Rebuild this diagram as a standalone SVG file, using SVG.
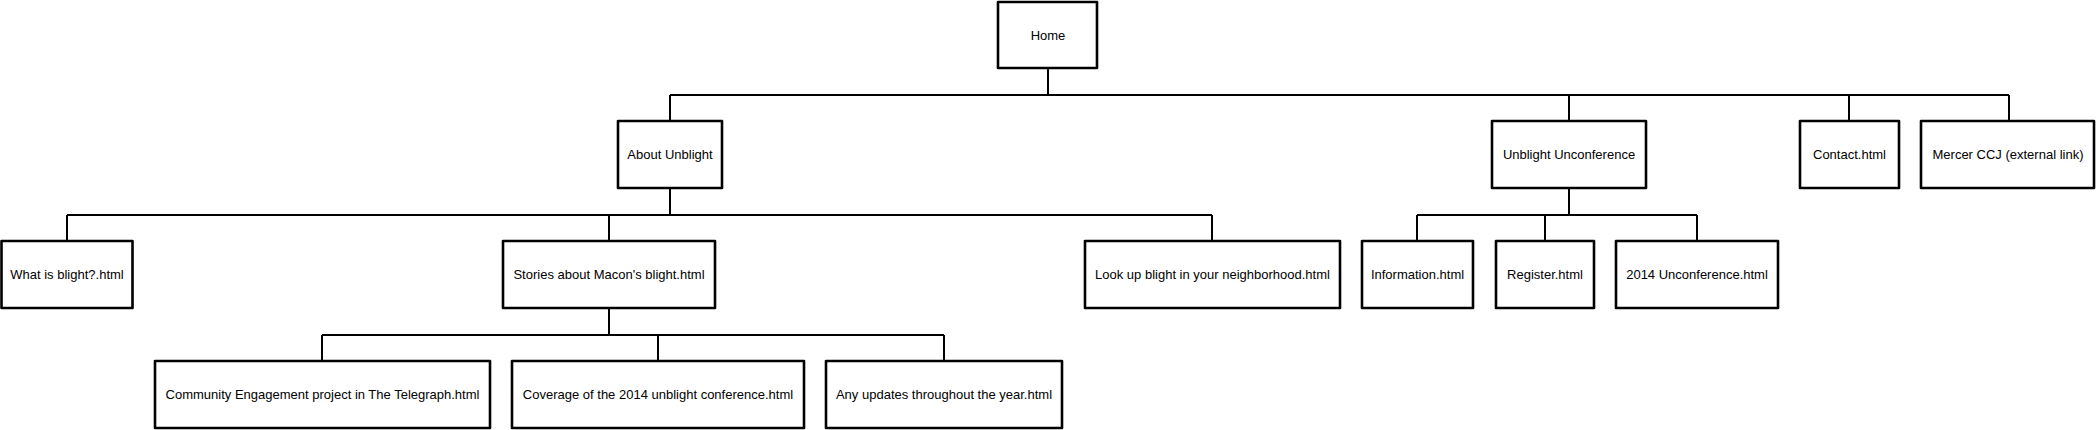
<svg xmlns="http://www.w3.org/2000/svg" width="2096" height="430" viewBox="0 0 2096 430">
<style>
.box{fill:#fff;stroke:#000;stroke-width:2.6;stroke-linejoin:round}
.lbl{font-family:"Liberation Sans",Arial,sans-serif;font-size:13px;fill:#000;text-anchor:middle;dominant-baseline:central}
.con{fill:none;stroke:#000;stroke-width:2}
</style>
<rect width="2096" height="430" fill="#fff"/>
<g id="connectors" class="con">
<path d="M1048,68 V95"/>
<path d="M670,95 H2009"/>
<path d="M670,95 V121 M1569,95 V121 M1849,95 V121 M2009,95 V121"/>
<path d="M670,188 V215"/>
<path d="M67,215 H1212"/>
<path d="M67,215 V241 M609,215 V241 M1212,215 V241"/>
<path d="M1569,188 V215"/>
<path d="M1417,215 H1697"/>
<path d="M1417,215 V241 M1545,215 V241 M1697,215 V241"/>
<path d="M609,308 V335"/>
<path d="M322,335 H944"/>
<path d="M322,335 V361 M658,335 V361 M944,335 V361"/>
</g>
<g id="home"><rect class="box" x="998" y="2" width="99" height="66"/><text class="lbl" x="1048" y="35">Home</text></g>
<g id="about"><rect class="box" x="618" y="121" width="104" height="67"/><text class="lbl" x="670" y="154.5">About Unblight</text></g>
<g id="unconference"><rect class="box" x="1492" y="121" width="154" height="67"/><text class="lbl" x="1569" y="154.5">Unblight Unconference</text></g>
<g id="contact"><rect class="box" x="1800" y="121" width="99" height="67"/><text class="lbl" x="1849.5" y="154.5">Contact.html</text></g>
<g id="mercer"><rect class="box" x="1921" y="121" width="173" height="67"/><text class="lbl" x="2008" y="154.5">Mercer CCJ (external link)</text></g>
<g id="what"><rect class="box" x="1.5" y="241" width="131" height="67"/><text class="lbl" x="67" y="274.5">What is blight?.html</text></g>
<g id="stories"><rect class="box" x="503" y="241" width="212" height="67"/><text class="lbl" x="609" y="274.5">Stories about Macon's blight.html</text></g>
<g id="lookup"><rect class="box" x="1085" y="241" width="255" height="67"/><text class="lbl" x="1212.5" y="274.5">Look up blight in your neighborhood.html</text></g>
<g id="information"><rect class="box" x="1362" y="241" width="111" height="67"/><text class="lbl" x="1417.5" y="274.5">Information.html</text></g>
<g id="register"><rect class="box" x="1496" y="241" width="98" height="67"/><text class="lbl" x="1545" y="274.5">Register.html</text></g>
<g id="unconf2014"><rect class="box" x="1616" y="241" width="162" height="67"/><text class="lbl" x="1697" y="274.5">2014 Unconference.html</text></g>
<g id="community"><rect class="box" x="155" y="361" width="335" height="67"/><text class="lbl" x="322.5" y="394.5">Community Engagement project in The Telegraph.html</text></g>
<g id="coverage"><rect class="box" x="512" y="361" width="292" height="67"/><text class="lbl" x="658" y="394.5">Coverage of the 2014 unblight conference.html</text></g>
<g id="updates"><rect class="box" x="826" y="361" width="236" height="67"/><text class="lbl" x="944" y="394.5">Any updates throughout the year.html</text></g>
</svg>
